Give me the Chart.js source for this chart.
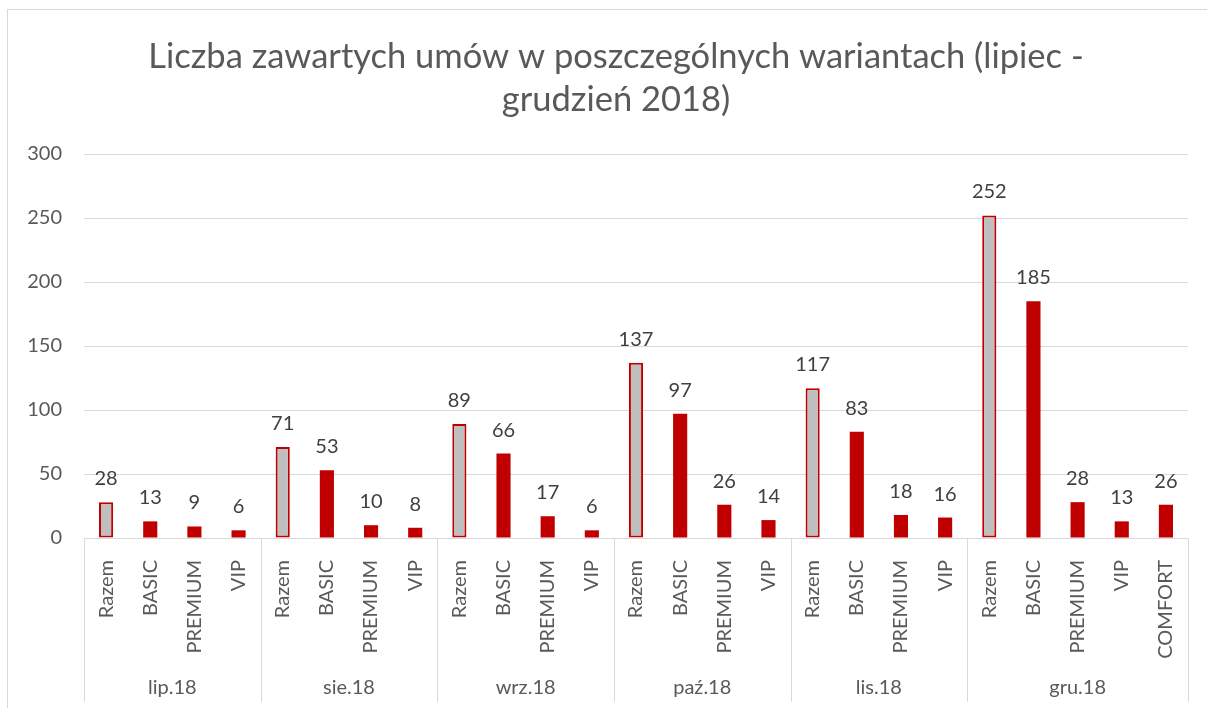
<!DOCTYPE html>
<html>
<head>
<meta charset="utf-8">
<script src="https://cdn.jsdelivr.net/npm/chart.js@4"></script>
<style>
  body { margin: 0; background: #fff; }
</style>
</head>
<body>
<canvas id="myChart" width="1207" height="708"></canvas>
<script>
  const title = ['Liczba zawartych umów w poszczególnych wariantach (lipiec -', 'grudzień 2018)'];
  const months = ['lip.18', 'sie.18', 'wrz.18', 'paź.18', 'lis.18', 'gru.18'];
  const groupSizes = [4, 4, 4, 4, 4, 5];
  const categories = [
    'Razem', 'BASIC', 'PREMIUM', 'VIP',
    'Razem', 'BASIC', 'PREMIUM', 'VIP',
    'Razem', 'BASIC', 'PREMIUM', 'VIP',
    'Razem', 'BASIC', 'PREMIUM', 'VIP',
    'Razem', 'BASIC', 'PREMIUM', 'VIP',
    'Razem', 'BASIC', 'PREMIUM', 'VIP', 'COMFORT'
  ];
  const values = [
    28, 13, 9, 6,
    71, 53, 10, 8,
    89, 66, 17, 6,
    137, 97, 26, 14,
    117, 83, 18, 16,
    252, 185, 28, 13, 26
  ];
  const yTicks = [0, 50, 100, 150, 200, 250, 300];

  const font = 'Lato, "Open Sans", sans-serif';
  const gridColor = '#d9d9d9';
  const red = '#C00000';

  // title, labels above bars, month row, separators, outer frame
  const extras = {
    id: 'extras',
    beforeDraw(chart) {
      const c = chart.ctx;
      c.save();
      c.strokeStyle = gridColor;
      c.lineWidth = 1;
      c.strokeRect(7.5, 9.5, 1400, 900);
      c.fillStyle = '#595959';
      c.font = '34.5px ' + font;
      c.textAlign = 'center';
      c.textBaseline = 'middle';
      c.fillText(title[0], 616, 57);
      c.fillText(title[1], 616, 100);
      c.restore();
    },
    afterDraw(chart) {
      const c = chart.ctx;
      const x = chart.scales.x;
      const area = chart.chartArea;
      const w = (x.right - x.left) / categories.length;
      c.save();
      c.strokeStyle = gridColor;
      c.lineWidth = 1;
      let idx = 0;
      const edges = [x.left];
      groupSizes.forEach(n => { idx += n; edges.push(x.getPixelForValue(idx - 1) + w / 2); });
      edges.forEach(e => {
        const px = Math.round(e) + 0.5;
        c.beginPath();
        c.moveTo(px, area.bottom);
        c.lineTo(px, 702);
        c.stroke();
      });
      c.fillStyle = '#595959';
      c.font = '20px ' + font;
      c.textAlign = 'center';
      c.textBaseline = 'middle';
      months.forEach((m, i) => {
        c.fillText(m, (edges[i] + edges[i + 1]) / 2, 688);
      });
      // data labels
      const meta = chart.getDatasetMeta(0);
      c.fillStyle = '#404040';
      c.textBaseline = 'alphabetic';
      meta.data.forEach((bar, i) => {
        c.fillText(values[i], bar.x, bar.y - 17);
      });
      c.restore();
    }
  };

  const ctx = document.getElementById('myChart');
  new Chart(ctx, {
    type: 'bar',
    data: {
      labels: categories,
      datasets: [{
        data: values,
        backgroundColor: categories.map(c => c === 'Razem' ? '#BFBFBF' : red),
        borderColor: red,
        borderWidth: categories.map(c => c === 'Razem' ? 2 : 0),
        borderSkipped: false,
        barPercentage: 0.32,
        categoryPercentage: 1
      }]
    },
    options: {
      responsive: false,
      animation: false,
      layout: { padding: { left: 0, right: 19, top: 154, bottom: 6 } },
      plugins: {
        legend: { display: false },
        tooltip: { enabled: false },
        title: { display: false }
      },
      scales: {
        x: {
          grid: { display: false },
          border: { display: false },
          ticks: {
            color: '#595959',
            font: { family: font, size: 20 },
            minRotation: 90,
            maxRotation: 90,
            autoSkip: false,
            padding: 14
          },
          afterFit(scale) { scale.height = 164; }
        },
        y: {
          min: 0,
          max: 300,
          afterBuildTicks(scale) { scale.ticks = yTicks.map(v => ({ value: v })); },
          grid: { color: gridColor, drawTicks: false },
          border: { display: false },
          ticks: {
            color: '#595959',
            font: { family: font, size: 20 },
            padding: 22
          },
          afterFit(scale) { scale.width = 84; }
        }
      }
    },
    plugins: [extras]
  });
</script>
</body>
</html>
